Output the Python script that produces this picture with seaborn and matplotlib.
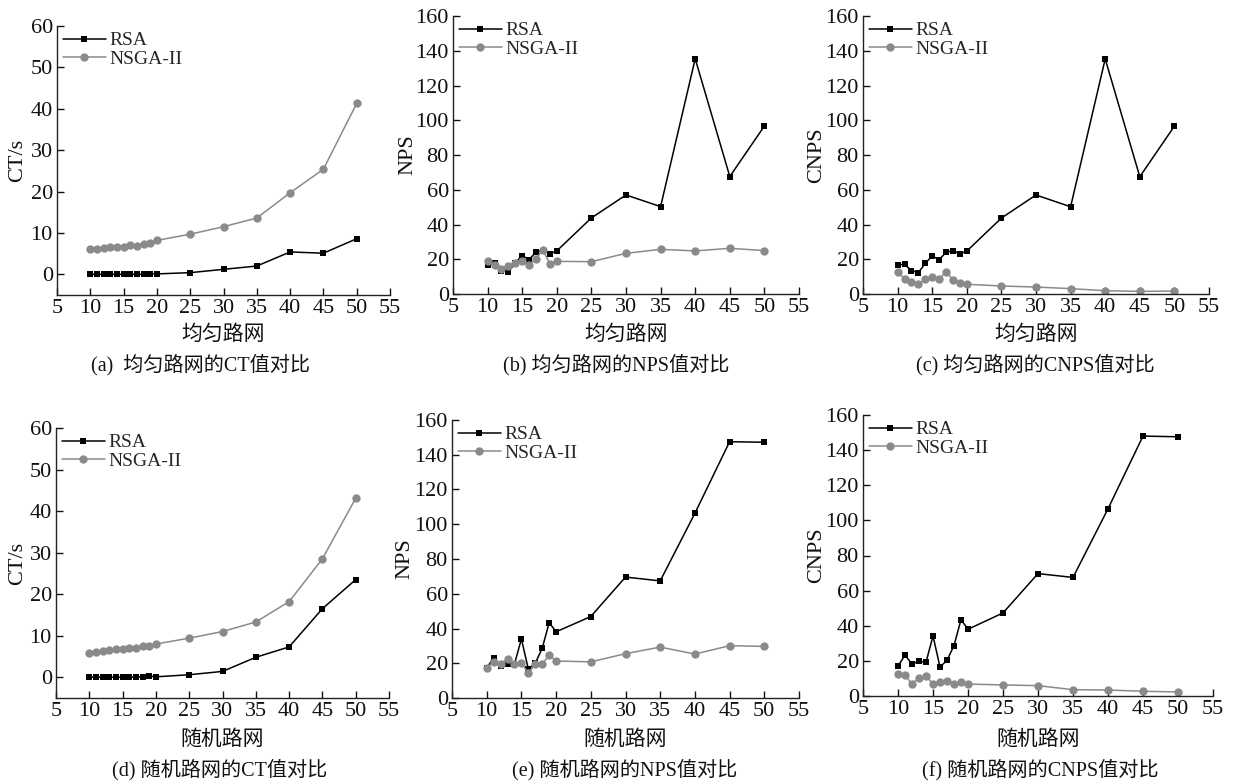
import numpy as np
import pandas as pd
import matplotlib
matplotlib.use('Agg')
import matplotlib.pyplot as plt
import seaborn as sns

# ==================== DATA ====================
X_VALUES = [10, 11, 12, 13, 14, 15, 16, 17, 18, 19, 20, 25, 30, 35, 40, 45, 50]

# uniform road network
ct_uni_rsa = [0, 0, 0, 0, 0, 0, 0, 0, 0, 0.1, 0.1, 0.4, 1.2, 2.0, 5.4, 5.1, 8.6]
ct_uni_nsga = [6.0, 6.2, 6.3, 6.5, 6.5, 6.5, 7.0, 6.9, 7.4, 7.6, 8.2, 9.7, 11.5, 13.6, 19.7, 25.4, 41.3]
nps_uni_rsa = [16.8, 17.6, 13.5, 12.5, 18.0, 22.1, 19.8, 24.1, 25.0, 23.2, 24.8, 43.8, 57.0, 50.3, 135.4, 67.6, 96.7]
nps_uni_nsga = [19.0, 16.7, 14.6, 16.4, 17.8, 19.2, 16.9, 20.3, 25.3, 17.3, 18.8, 18.6, 23.4, 25.7, 24.8, 26.3, 25.0]
cnps_uni_rsa = [16.8, 17.1, 13.4, 12.3, 17.6, 22.0, 19.7, 24.0, 24.9, 23.2, 24.7, 43.7, 57.0, 50.2, 135.3, 67.5, 96.6]
cnps_uni_nsga = [12.5, 8.8, 7.1, 5.9, 8.4, 10.0, 8.4, 12.8, 8.1, 6.5, 5.6, 4.6, 4.0, 3.1, 1.9, 1.5, 1.7]

# random road network
ct_rnd_rsa = [0, 0, 0, 0, 0, 0, 0, 0, 0.1, 0.3, 0.1, 0.6, 1.4, 4.8, 7.3, 16.5, 23.5]
ct_rnd_nsga = [5.9, 6.1, 6.3, 6.5, 6.7, 6.7, 7.1, 7.1, 7.4, 7.6, 8.0, 9.4, 11.0, 13.3, 18.2, 28.5, 43.1]
nps_rnd_rsa = [17.1, 23.3, 18.5, 19.6, 19.5, 34.0, 16.6, 20.0, 28.6, 43.4, 38.1, 46.9, 69.6, 67.4, 106.3, 147.5, 147.2]
nps_rnd_nsga = [17.3, 20.9, 19.8, 22.5, 19.6, 20.0, 14.3, 19.4, 19.4, 24.7, 21.3, 20.8, 25.5, 29.3, 25.3, 30.1, 29.7]
cnps_rnd_rsa = [17.1, 23.2, 18.2, 19.8, 19.2, 34.2, 16.5, 20.3, 28.7, 43.5, 38.0, 47.3, 69.7, 67.5, 106.6, 148.0, 147.6]
cnps_rnd_nsga = [12.4, 11.8, 6.8, 10.5, 11.2, 7.0, 8.0, 8.4, 7.0, 7.8, 6.8, 6.3, 5.9, 3.6, 3.4, 2.7, 2.3]

SERIES = ['RSA', 'NSGA-II']
X_TICKS = [5, 10, 15, 20, 25, 30, 35, 40, 45, 50, 55]

PANELS = [
    # rsa, nsga, ylabel, xlabel, caption, ylim, yticks,
    # axes box (px), ylabel x (px), xlabel y (px), caption (x, y) (px)
    (ct_uni_rsa, ct_uni_nsga, 'CT/s', '均匀路网', '(a)  均匀路网的CT值对比',
     (-5, 60), range(0, 61, 10), [57, 26, 390, 295], 18, 335, (201, 365)),
    (nps_uni_rsa, nps_uni_nsga, 'NPS', '均匀路网', '(b) 均匀路网的NPS值对比',
     (0, 160), range(0, 161, 20), [453, 16, 799, 294], 408, 335, (616, 365)),
    (cnps_uni_rsa, cnps_uni_nsga, 'CNPS', '均匀路网', '(c) 均匀路网的CNPS值对比',
     (0, 160), range(0, 161, 20), [863, 16, 1209, 294], 817, 335, (1035, 365)),
    (ct_rnd_rsa, ct_rnd_nsga, 'CT/s', '随机路网', '(d) 随机路网的CT值对比',
     (-5, 60), range(0, 61, 10), [56, 428, 389, 698], 18, 740, (220, 770)),
    (nps_rnd_rsa, nps_rnd_nsga, 'NPS', '随机路网', '(e) 随机路网的NPS值对比',
     (0, 160), range(0, 161, 20), [452, 420, 799, 698], 405, 740, (625, 770)),
    (cnps_rnd_rsa, cnps_rnd_nsga, 'CNPS', '随机路网', '(f) 随机路网的CNPS值对比',
     (0, 160), range(0, 161, 20), [863, 415, 1213, 696], 817, 740, (1040, 770)),
]

# ==================== STYLE ====================
sns.set_theme(style='ticks')
plt.rcParams['font.family'] = ['Liberation Serif', 'Noto Sans CJK SC']
plt.rcParams['axes.linewidth'] = 1.0
plt.rcParams['axes.edgecolor'] = '#222222'

W, H = 1235, 783
fig = plt.figure(figsize=(W / 100, H / 100), dpi=100)

GRAY = '#8a8a8a'
TEXT = '#111111'

for (rsa, nsga, ylabel, xlabel, caption, ylim, yticks,
     (x0, y0, x1, y1), ylab_x, xlab_y, (cap_x, cap_y)) in PANELS:
    ax = fig.add_axes([x0 / W, 1 - y1 / H, (x1 - x0) / W, (y1 - y0) / H])

    sns.lineplot(x=X_VALUES, y=rsa, color='black', marker='s', markersize=5,
                 markeredgewidth=0, linewidth=1.1, label=SERIES[0], ax=ax)
    sns.lineplot(x=X_VALUES, y=nsga, color=GRAY, marker='o', markersize=6,
                 markeredgewidth=0, linewidth=1.1, label=SERIES[1], ax=ax)

    ax.set_xlim(5, 55)
    ax.set_ylim(*ylim)
    ax.set_xticks(X_TICKS)
    ax.set_yticks(list(yticks))
    ax.tick_params(direction='in', length=5, width=1.0, labelsize=16, pad=3,
                   colors=TEXT)
    sns.despine(ax=ax)

    ax.set_ylabel(ylabel, fontsize=16, va='center', color=TEXT)
    ax.yaxis.set_label_coords(ylab_x / W, 1 - (y0 + y1) / 2 / H,
                              transform=fig.transFigure)
    ax.set_xlabel(xlabel, fontsize=15, va='center', color=TEXT)
    ax.xaxis.set_label_coords((x0 + x1) / 2 / W, 1 - xlab_y / H,
                              transform=fig.transFigure)
    fig.text(cap_x / W, 1 - cap_y / H, caption, ha='center', va='center',
             fontsize=14.5, color=TEXT)

    leg = ax.legend(loc='upper left', frameon=False, fontsize=14,
                    handlelength=2.2, handletextpad=0.2, labelspacing=0.05,
                    borderaxespad=0.1, borderpad=0.2)

fig.savefig('out.png', dpi=100)
plt.close(fig)
